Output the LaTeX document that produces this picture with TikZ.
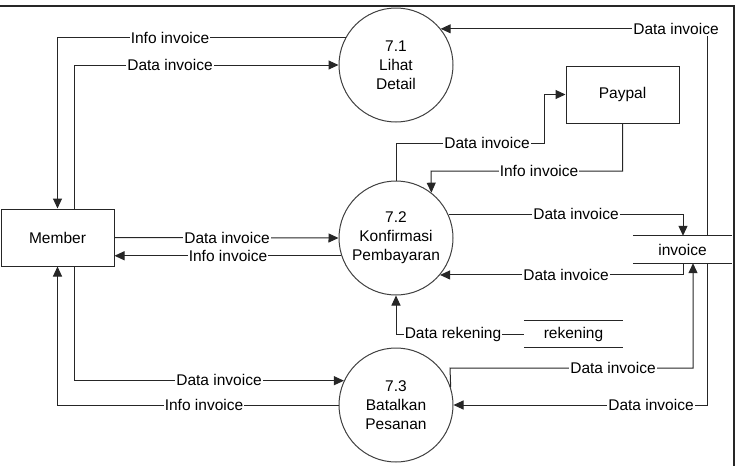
\documentclass[tikz,border=0pt]{standalone}
\usepackage{fontspec}
\setmainfont{Liberation Sans}
\usetikzlibrary{arrows.meta}
\begin{document}
\begin{tikzpicture}[x=1pt,y=-1pt,
  every node/.style={font=\fontsize{15.5}{19}\selectfont},
  proc/.style={draw=black!75,line width=1pt,circle,minimum size=114pt,inner sep=0pt,align=center},
  entity/.style={draw=black!85,line width=1pt,rectangle,minimum width=113pt,minimum height=57pt,inner sep=0pt},
  store/.style={minimum width=99pt,minimum height=27pt,inner sep=0pt},
  flow/.style={draw=black!85,line width=1pt,-{Triangle[length=10pt,width=9pt]}},
  link/.style={draw=black!85,line width=1pt},
  lbl/.style={fill=white,inner sep=1pt}]
\useasboundingbox (0,0) rectangle (739,466);
% frame edges
\draw[line width=1.2pt,black!85] (0,6) -- (734,6) -- (734,466);

% processes, entities and stores
\node[proc] (c1) at (396,65) {7.1\\Lihat\\Detail};
\node[proc] (c2) at (396,238) {7.2\\Konfirmasi\\Pembayaran};
\node[proc] (c3) at (396,405) {7.3\\Batalkan\\Pesanan};
\node[entity] (m) at (57.5,237.5) {Member};
\node[entity] (p) at (622.5,94.5) {Paypal};
\node[store] (inv) at (682.5,249.5) {invoice};
\node[store] (rek) at (573.5,334) {rekening};
\foreach \s in {inv,rek}{
  \draw[link] (\s.north west) -- (\s.north east);
  \draw[link] (\s.south west) -- (\s.south east);
}

% bend points
\coordinate (b1) at (544,143);
\coordinate (b2) at (431,171);
\coordinate (b3) at (450,368);

% 7.1 flows
\draw[flow] (c1.151.7) -| (m.north);
\node[lbl] at (170,38) {Info invoice};
\draw[flow] ([xshift=16.5pt]m.north) |- (c1.west);
\node[lbl] at (170,65) {Data invoice};
\draw[flow] ([xshift=24.5pt]inv.north) |- (c1.39.2);
\node[lbl] at (676,29) {Data invoice};

% 7.2 flows
\draw[flow] (c2.north) |- (b1) |- (p.west);
\node[lbl] at (487,143) {Data invoice};
\draw[flow] (p.south) |- (b2) -- (c2.52);
\node[lbl] at (539,171) {Info invoice};
\draw[flow] (c2.24.9) -| ([xshift=0.5pt]inv.north);
\node[lbl] at (576,214) {Data invoice};
\draw[flow] ([xshift=0.5pt]inv.south) |- (c2.-40.5);
\node[lbl] at (566,275) {Data invoice};
\draw[flow] (rek.west) -| (c2.south);
\node[lbl] at (453,334) {Data rekening};
\draw[flow] (m.east) -- (c2.west);
\node[lbl] at (227,238) {Data invoice};
\draw[flow] (c2.198.4) -- (m.east |- c2.198.4);
\node[lbl] at (228,256) {Info invoice};

% 7.3 flows
\draw[flow] ([xshift=16.5pt]m.south) |- (c3.155.1);
\node[lbl] at (219,380) {Data invoice};
\draw[flow] (c3.west) -| (m.south);
\node[lbl] at (204,405) {Info invoice};
\draw[flow] (c3.18) -- (b3) -| ([xshift=10.5pt]inv.south);
\node[lbl] at (613,368) {Data invoice};
\draw[flow] ([xshift=24.5pt]inv.south) |- (c3.east);
\node[lbl] at (651,405) {Data invoice};
\end{tikzpicture}
\end{document}
